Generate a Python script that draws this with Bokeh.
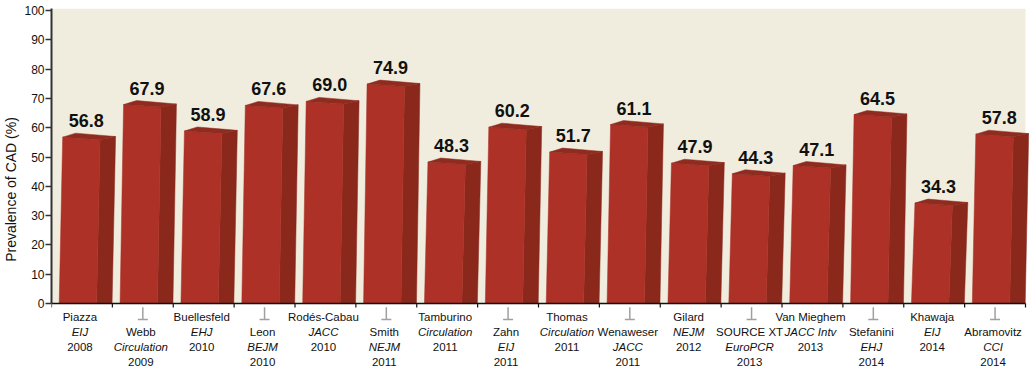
from bokeh.plotting import figure
from bokeh.models import Range1d, FixedTicker, ColumnDataSource, LabelSet, BoxAnnotation
from bokeh.core.properties import value
from bokeh.embed import file_html
from bokeh.resources import INLINE

authors = ["Piazza", "Webb", "Buellesfeld", "Leon", "Rodés-Cabau", "Smith", "Tamburino", "Zahn",
           "Thomas", "Wenaweser", "Gilard", "SOURCE XT", "Van Mieghem", "Stefanini", "Khawaja", "Abramovitz"]
journals = ["EIJ", "Circulation", "EHJ", "BEJM", "JACC", "NEJM", "Circulation", "EIJ",
            "Circulation", "JACC", "NEJM", "EuroPCR", "JACC Intv", "EHJ", "EIJ", "CCI"]
years = ["2008", "2009", "2010", "2010", "2010", "2011", "2011", "2011",
         "2011", "2011", "2012", "2013", "2013", "2014", "2014", "2014"]
prevalence = [56.8, 67.9, 58.9, 67.6, 69.0, 74.9, 48.3, 60.2, 51.7, 61.1, 47.9, 44.3, 47.1, 64.5, 34.3, 57.8]
y_ticks = list(range(0, 101, 10))

FONT = "Liberation Sans"
n = len(prevalence)
PX = 61.0          # pixels per category
YPX = 2.93         # pixels per unit on y
TOP = 100.7
FRAME_H = 362
FRAME_W = 980
y_start = TOP - FRAME_H / YPX
x_end = FRAME_W / PX

p = figure(width=1033, height=372, output_backend="svg", toolbar_location=None,
           x_range=Range1d(0, x_end), y_range=Range1d(y_start, TOP),
           x_axis_location=None,
           min_border_left=49, min_border_right=4, min_border_top=8, min_border_bottom=2)
p.background_fill_color = "white"
p.border_fill_color = "white"
p.outline_line_color = None
p.grid.visible = False

# beige plot area (0..100 region, categories only)
p.add_layout(BoxAnnotation(left=0, right=n, bottom=0, top=TOP, fill_color="#F1EDDE",
                           fill_alpha=1, line_color=None, level="underlay"))

# bars (front, side, top faces)
x0 = [i + 7.7 / PX for i in range(n)]
w = 37.5 / PX
s = 3.5 / PX
dx = 15.5 / PX
front_xs, front_ys, side_xs, side_ys, top_xs, top_ys = [], [], [], [], [], []
for i, v in enumerate(prevalence):
    a = x0[i]
    b = a + w
    fr = v - 2.5 / YPX
    front_xs.append([a, b, b + s, a + s])
    front_ys.append([0, 0, fr, v])
    side_xs.append([b, b + dx, b + dx + s, b + s])
    side_ys.append([0, 0, v + 0.6 / YPX, fr])
    top_xs.append([a + s, b + s, b + s + dx, a + s + 13 / PX])
    top_ys.append([v, fr, v + 0.6 / YPX, v + 4 / YPX])

p.patches(side_xs, side_ys, fill_color="#8A281C", line_color="#8A281C", line_width=0.5)
p.patches(front_xs, front_ys, fill_color="#AD3126", line_color="#AD3126", line_width=0.5)
p.patches(top_xs, top_ys, fill_color="#8F2B1F", line_color="#8F2B1F", line_width=0.5)

# x axis line and ticks at zero
p.segment(x0=[0], y0=[0], x1=[n], y1=[0], line_color="#111111", line_width=1.5)
p.segment(x0=list(range(n + 1)), y0=[0] * (n + 1), x1=list(range(n + 1)),
          y1=[-4 / YPX] * (n + 1), line_color="#111111", line_width=1.2)

# value labels
vsrc = ColumnDataSource(dict(x=[i + 0.57 for i in range(n)], y=prevalence,
                             t=["%.1f" % v for v in prevalence]))
p.add_layout(LabelSet(x="x", y="y", text="t", source=vsrc, y_offset=10,
                      text_align="center", text_baseline="alphabetic",
                      text_font=value(FONT), text_font_size="18px", text_font_style="bold",
                      text_color="#111111"))

# y axis
p.yaxis.ticker = FixedTicker(ticks=y_ticks)
p.yaxis.bounds = (0, TOP)
p.yaxis.major_tick_out = 6
p.yaxis.major_tick_in = 0
p.yaxis.minor_tick_line_color = None
p.yaxis.axis_line_color = "#333333"
p.yaxis.axis_line_width = 2
p.yaxis.major_tick_line_color = "#333333"
p.yaxis.major_tick_line_width = 1.5
p.yaxis.major_label_standoff = 1
p.yaxis.major_label_text_font = FONT
p.yaxis.major_label_text_font_size = "12px"
p.yaxis.major_label_text_color = "#111111"
p.yaxis.axis_label = "Prevalence of CAD (%)"
p.yaxis.axis_label_text_font = FONT
p.yaxis.axis_label_text_font_size = "14px"
p.yaxis.axis_label_text_font_style = "normal"
p.yaxis.axis_label_text_color = "#111111"
p.yaxis.axis_label_standoff = 2

# category labels (alternating rows)
cx = [i + 0.5 - 2 / PX for i in range(n)]
row0 = [0 if i % 2 == 0 else 1 for i in range(n)]
def row_y(r):
    return -(17 + 15 * r) / YPX
lsrc = ColumnDataSource(dict(x=cx, a=authors, j=journals, yr=years,
                             y1=[row_y(r) for r in row0], y2=[row_y(r + 1) for r in row0],
                             y3=[row_y(r + 2) for r in row0]))
common = dict(x="x", source=lsrc, text_align="center", text_baseline="alphabetic",
              text_font=value(FONT), text_font_size="11.5px", text_color="#111111")
p.add_layout(LabelSet(y="y1", text="a", **common))
p.add_layout(LabelSet(y="y2", text="j", text_font_style="italic", **common))
p.add_layout(LabelSet(y="y3", text="yr", **common))

# grey connector marks for shifted labels
odd = [i for i in range(n) if i % 2 == 1]
yt, yb = -3.7 / YPX, -16 / YPX
p.segment(x0=[i + 0.5 for i in odd], y0=[yt] * len(odd), x1=[i + 0.5 for i in odd],
          y1=[yb] * len(odd), line_color="#A0A0A0", line_width=1.5)
p.segment(x0=[i + 0.5 - 5 / PX for i in odd], y0=[yb] * len(odd),
          x1=[i + 0.5 + 5 / PX for i in odd], y1=[yb] * len(odd),
          line_color="#A0A0A0", line_width=1.5)

open("out.html", "w").write(file_html(p, INLINE))
